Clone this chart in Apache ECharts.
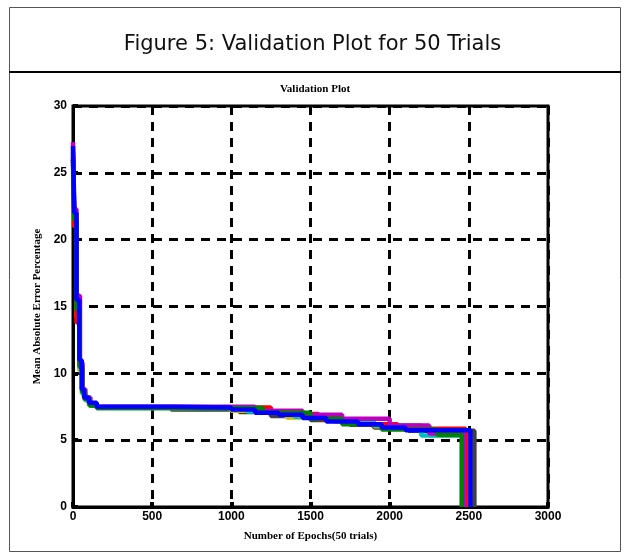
<!DOCTYPE html>
<html>
<head>
<meta charset="utf-8">
<script src="https://cdn.jsdelivr.net/npm/echarts@6/dist/echarts.min.js"></script>
<style>
  html, body { margin: 0; padding: 0; background: #fff; }
  #main { width: 625px; height: 558px; }
</style>
</head>
<body>
<div id="main"></div>
<script>
// x ticks and y ticks
let xTicks = [0, 500, 1000, 1500, 2000, 2500, 3000]
let yTicks = [0, 5, 10, 15, 20, 25, 30]

// a few of the 50 trials as [epoch, error] steps
let trialGray = [[0, 26.5], [8, 21.5], [22, 15], [42, 10.5], [58, 8.6], [75, 8.1], [105, 7.7], [150, 7.45], [620, 7.3], [1050, 7.1], [1250, 6.8], [1500, 6.5], [1750, 6.15], [1900, 5.95], [2120, 5.7], [2535, 5.6], [2535, 0]]
let trialYellow = [[0, 26], [8, 21], [22, 14.2], [40, 10.2], [56, 8.5], [72, 8], [100, 7.6], [150, 7.4], [700, 7.45], [1000, 7.2], [1150, 7.1], [1350, 6.7], [1650, 6.4], [1900, 6.05], [2250, 5.35], [2500, 5.35], [2500, 0]]
let trialCyan = [[0, 26], [8, 21.2], [22, 14.5], [42, 10.4], [58, 8.5], [75, 8], [105, 7.6], [150, 7.4], [1100, 7.15], [1400, 6.75], [1600, 6.5], [1900, 6.1], [2200, 5.35], [2490, 5.4], [2490, 0]]
let trialRed = [[0, 26.2], [8, 21], [22, 13.8], [42, 10.6], [58, 8.7], [75, 8.1], [105, 7.7], [150, 7.45], [1250, 7.1], [1300, 6.95], [1550, 6.55], [1800, 6.2], [2050, 5.85], [2480, 5.55], [2480, 0]]
let trialMagenta = [[0, 27.3], [8, 22.3], [22, 15.8], [44, 10.8], [60, 8.8], [78, 8.2], [110, 7.7], [150, 7.5], [780, 7.5], [1150, 7.2], [1450, 6.9], [1700, 6.6], [2000, 6.1], [2250, 5.5], [2470, 5.45], [2470, 0]]
let trialGreen = [[0, 26], [8, 21.5], [22, 14.8], [42, 10.5], [58, 8.6], [75, 8.1], [105, 7.6], [150, 7.4], [1200, 7.05], [1500, 6.6], [1700, 6.2], [1950, 5.8], [2300, 5.4], [2455, 5.4], [2455, 0]]
let trialBlue = [[0, 27], [8, 22], [22, 15.5], [40, 11], [55, 8.8], [70, 8.2], [100, 7.8], [150, 7.5], [650, 7.45], [1000, 7.3], [1150, 7.05], [1300, 6.9], [1450, 6.65], [1600, 6.4], [1800, 6.2], [1950, 5.95], [2100, 5.75], [2510, 5.7], [2510, 0]]

let trials = [
    { data: trialGray, color: '#404040' },
    { data: trialYellow, color: '#bfbf00' },
    { data: trialCyan, color: '#00bfbf' },
    { data: trialRed, color: '#ff0000' },
    { data: trialMagenta, color: '#bf00bf' },
    { data: trialGreen, color: '#008000' },
    { data: trialBlue, color: '#0000ff' }
]

let myChart = echarts.init(document.getElementById('main'))

let option = {
    animation: false,
    title: [
        {
            text: 'Figure 5: Validation Plot for 50 Trials',
            left: 'center',
            top: 29,
            textStyle: { fontFamily: 'DejaVu Sans', fontSize: 21, fontWeight: 'normal', color: '#111' }
        },
        {
            text: 'Validation Plot',
            left: 310,
            textAlign: 'center',
            top: 79,
            textStyle: { fontFamily: 'Liberation Serif', fontSize: 11, fontWeight: 'bold', color: '#000' }
        }
    ],
    graphic: [
        { type: 'rect', shape: { x: 9.5, y: 7.5, width: 611, height: 544 }, style: { fill: 'none', stroke: '#555', lineWidth: 1 } },
        { type: 'line', shape: { x1: 9, y1: 72, x2: 621, y2: 72 }, style: { stroke: '#000', lineWidth: 2 } }
    ],
    grid: {
        left: 73, top: 106, right: 77, bottom: 51,
        show: true, borderColor: '#000', borderWidth: 3, backgroundColor: '#fff'
    },
    xAxis: {
        type: 'value',
        min: xTicks[0], max: xTicks[xTicks.length - 1], interval: 500,
        name: 'Number of Epochs(50 trials)',
        nameLocation: 'middle', nameGap: 24,
        nameTextStyle: { fontFamily: 'Liberation Serif', fontSize: 11, fontWeight: 'bold', color: '#000' },
        axisLine: { show: true, lineStyle: { color: '#000', width: 3 } },
        axisTick: { show: true, inside: true, length: 5, lineStyle: { color: '#000', width: 4 } },
        axisLabel: {
            fontFamily: 'Liberation Sans', fontSize: 12, fontWeight: 'bold', color: '#000', margin: 4,
            formatter: v => String(v)
        },
        splitLine: { show: true, lineStyle: { color: '#000', width: 3, type: [9, 7] } }
    },
    yAxis: {
        type: 'value',
        min: yTicks[0], max: yTicks[yTicks.length - 1], interval: 5,
        name: 'Mean Absolute Error Percentage',
        nameLocation: 'middle', nameGap: 30,
        nameTextStyle: { fontFamily: 'Liberation Serif', fontSize: 11, fontWeight: 'bold', color: '#000' },
        axisLine: { show: true, lineStyle: { color: '#000', width: 3 } },
        axisTick: { show: true, inside: true, length: 5, lineStyle: { color: '#000', width: 4 } },
        axisLabel: { fontFamily: 'Liberation Sans', fontSize: 12, fontWeight: 'bold', color: '#000', margin: 6 },
        splitLine: { show: true, lineStyle: { color: '#000', width: 3, type: [9, 7] } }
    },
    series: trials.map(t => ({
        type: 'line',
        step: 'end',
        data: t.data,
        symbol: 'none',
        lineStyle: { color: t.color, width: 4.5 },
        itemStyle: { color: t.color }
    }))
}

myChart.setOption(option)
</script>
</body>
</html>
